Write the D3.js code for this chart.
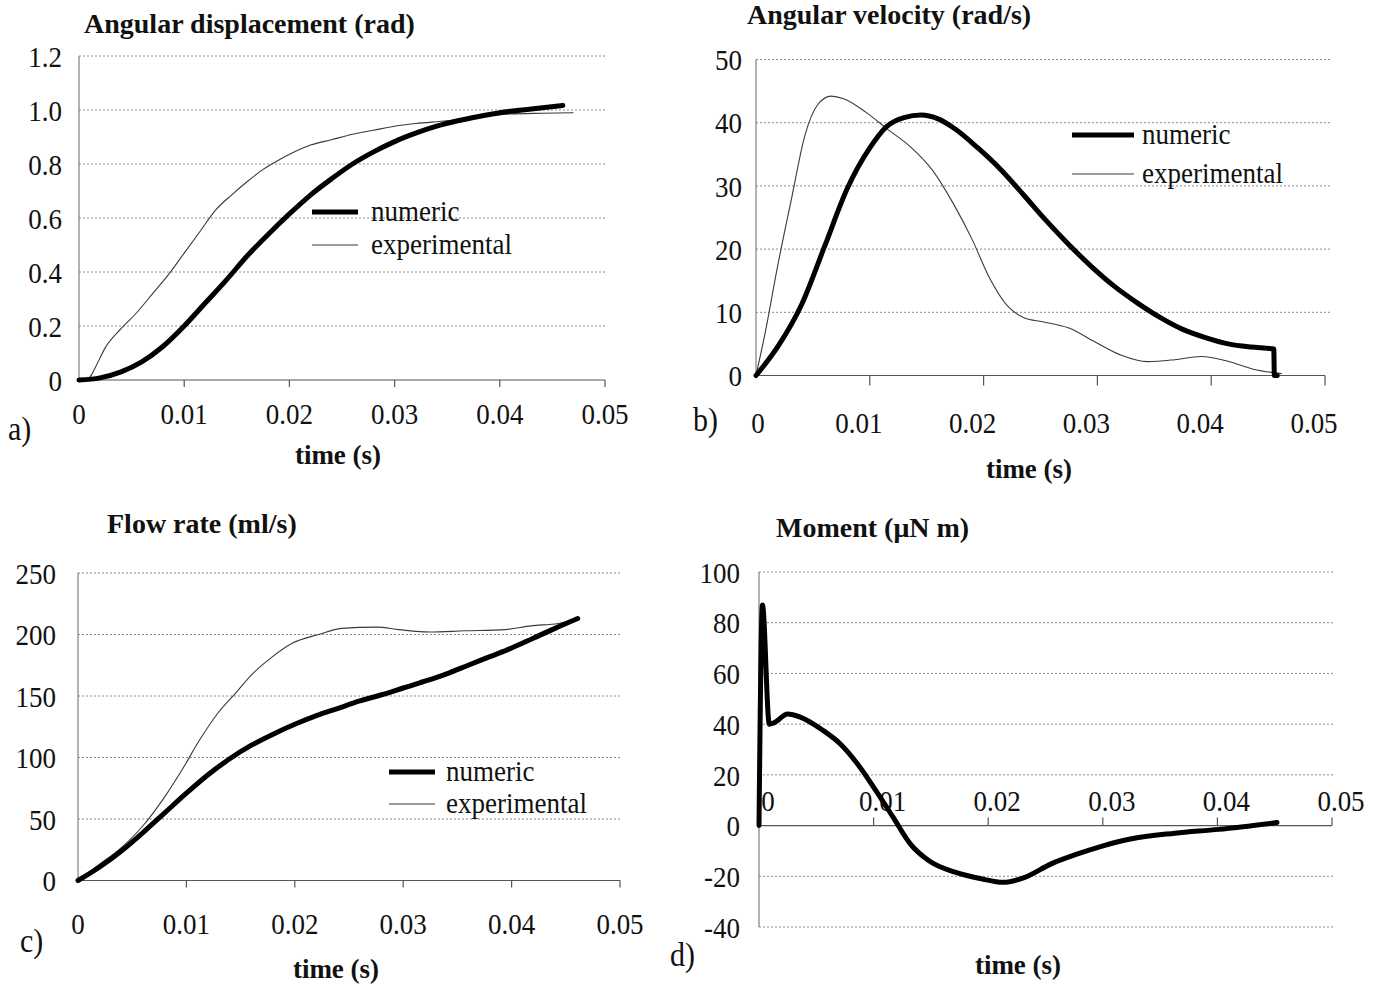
<!DOCTYPE html>
<html><head><meta charset="utf-8">
<script src="https://cdn.jsdelivr.net/npm/d3@7/dist/d3.min.js"></script>
<style>
html,body{margin:0;padding:0;background:#fff;}
svg{display:block;}
text{font-family:"Liberation Serif","Times New Roman",serif;fill:#111;}
</style></head>
<body>
<svg id="chart" width="1380" height="986"></svg>
<script>
// ---------- data ----------
const timeTicks = [0, 0.01, 0.02, 0.03, 0.04, 0.05];

const dispTicks = [0, 0.2, 0.4, 0.6, 0.8, 1.0, 1.2];
const dispTickLabels = ["0", "0.2", "0.4", "0.6", "0.8", "1.0", "1.2"];
const dispNumeric = [[0,0],[0.002,0.008],[0.004,0.03],[0.006,0.068],[0.008,0.125],[0.010,0.20],[0.012,0.285],[0.014,0.37],[0.016,0.46],[0.018,0.54],[0.020,0.615],[0.022,0.685],[0.024,0.745],[0.026,0.80],[0.028,0.845],[0.030,0.883],[0.032,0.914],[0.034,0.94],[0.036,0.96],[0.038,0.976],[0.040,0.99],[0.043,1.004],[0.046,1.017]];
const dispExperimental = [[0.0008,0.0],[0.0012,0.02],[0.0016,0.05],[0.0025,0.12],[0.004,0.19],[0.0055,0.25],[0.007,0.32],[0.0085,0.39],[0.010,0.47],[0.0115,0.55],[0.013,0.63],[0.0145,0.685],[0.016,0.735],[0.0175,0.78],[0.019,0.815],[0.0205,0.845],[0.022,0.87],[0.024,0.89],[0.026,0.91],[0.028,0.925],[0.030,0.94],[0.032,0.95],[0.035,0.96],[0.038,0.975],[0.041,0.985],[0.044,0.988],[0.047,0.99]];

const velTicks = [0, 10, 20, 30, 40, 50];
const velTickLabels = ["0", "10", "20", "30", "40", "50"];
const velNumeric = [[0,0],[0.002,4.8],[0.004,11.2],[0.006,20.3],[0.008,29.5],[0.010,36],[0.0115,39.4],[0.013,40.8],[0.0145,41.2],[0.016,40.6],[0.0175,39.0],[0.0195,36],[0.0215,32.6],[0.0235,28.6],[0.0255,24.5],[0.0275,20.7],[0.0295,17.2],[0.0315,14.1],[0.0335,11.5],[0.0355,9.2],[0.0375,7.3],[0.0395,6.0],[0.0415,5.0],[0.0435,4.5],[0.0455,4.2],[0.04555,0],[0.0458,0]];
const velExperimental = [[0,0],[0.0008,6.7],[0.0019,17.3],[0.0031,27.8],[0.0043,38],[0.0054,42.8],[0.0066,44.2],[0.0077,43.8],[0.0097,41.6],[0.0116,38.9],[0.0135,36.3],[0.0155,32.5],[0.0174,27],[0.019,21.5],[0.0205,15.5],[0.0221,11],[0.0236,9.1],[0.0252,8.5],[0.0275,7.5],[0.0298,5.3],[0.0321,3.2],[0.0344,2.2],[0.0368,2.5],[0.0391,3.0],[0.0414,2.3],[0.0437,1.0],[0.0462,0.3]];

const flowTicks = [0, 50, 100, 150, 200, 250];
const flowTickLabels = ["0", "50", "100", "150", "200", "250"];
const flowNumeric = [[0,0],[0.002,11],[0.004,24],[0.006,39],[0.008,55],[0.010,71],[0.012,86],[0.014,99],[0.016,110],[0.018,119],[0.020,127],[0.022,134],[0.024,140],[0.026,146],[0.028,151],[0.030,156.5],[0.032,162],[0.034,168],[0.036,175],[0.038,182],[0.040,189],[0.042,197],[0.044,205],[0.0461,213]];
const flowExperimental = [[0,0],[0.0018,12],[0.0037,24.5],[0.0059,43.5],[0.008,68],[0.0096,90],[0.0112,114],[0.0129,136],[0.0145,152],[0.0161,168],[0.0178,181],[0.0198,193],[0.0222,200],[0.0243,205],[0.0276,206],[0.0296,204],[0.0324,202],[0.0357,203],[0.0394,204],[0.0418,207],[0.0443,209],[0.046,212]];

const momTicks = [-40, -20, 0, 20, 40, 60, 80, 100];
const momTickLabels = ["-40", "-20", "0", "20", "40", "60", "80", "100"];
const momNumeric = [[0,0],[0.0003,87],[0.0009,40],[0.0013,40.5],[0.0025,44],[0.0036,42.8],[0.0056,37.5],[0.0071,32.2],[0.0086,24.3],[0.0102,13.8],[0.0117,3.3],[0.0132,-7.2],[0.0148,-13.8],[0.0171,-18.4],[0.0194,-21],[0.0213,-22.4],[0.0232,-20.4],[0.0255,-15.1],[0.0278,-11.2],[0.0301,-7.9],[0.0324,-5.3],[0.0363,-3.0],[0.0401,-1.5],[0.0452,1.2]];

const seriesNames = ["numeric", "experimental"];
const timeLabel = "time (s)";

// ---------- drawing ----------
const svg = d3.select("#chart");
const STRETCH = "scale(1,1.1)";

function drawPanel(p) {
  const g = svg.append("g");
  const x = d3.scaleLinear().domain([0, 0.05]).range([p.x0, p.x1]);
  const y = d3.scaleLinear().domain(p.yDomain).range([p.yBot, p.yTop]);

  // gridlines
  g.selectAll(".grid").data(p.yTicks.filter(v => v !== p.axisAt))
    .enter().append("line")
    .attr("x1", p.x0).attr("x2", p.gridRight)
    .attr("y1", d => y(d)).attr("y2", d => y(d))
    .attr("stroke", "#8a8a8a").attr("stroke-width", 1)
    .attr("stroke-dasharray", "2,2");

  // y axis line
  g.append("line").attr("x1", p.x0).attr("x2", p.x0)
    .attr("y1", y(p.yDomain[1])).attr("y2", y(p.yDomain[0]))
    .attr("stroke", "#666").attr("stroke-width", 1);

  // y tick labels
  g.selectAll(".ylab").data(p.yTicks).enter().append("text")
    .attr("transform", d => `translate(${p.x0 - p.yLabGap},${y(d)}) ${STRETCH}`)
    .attr("dy", "0.36em")
    .attr("text-anchor", "end")
    .attr("font-size", 27)
    .text((d, i) => p.yLabels[i]);

  // x axis line at axisAt
  const ax = y(p.axisAt);
  g.append("line").attr("x1", p.x0).attr("x2", p.x1)
    .attr("y1", ax).attr("y2", ax)
    .attr("stroke", "#555").attr("stroke-width", 1.2);
  g.selectAll(".xtick").data(timeTicks.slice(1)).enter().append("line")
    .attr("x1", d => x(d)).attr("x2", d => x(d))
    .attr("y1", ax).attr("y2", ax + p.tickLen)
    .attr("stroke", "#555").attr("stroke-width", 1.2);

  // x tick labels
  g.selectAll(".xlab").data(timeTicks).enter().append("text")
    .attr("transform", d => `translate(${x(d) + (d === 0 ? p.zeroDx : p.labDx)},${p.xLabY}) ${STRETCH}`)
    .attr("text-anchor", "middle")
    .attr("font-size", 27)
    .text(d => d === 0 ? "0" : d3.format(".2f")(d));

  // lines
  const line = d3.line().x(d => x(d[0])).y(d => y(d[1])).curve(d3.curveMonotoneX);
  if (p.exp) {
    g.append("path").datum(p.exp).attr("d", line)
      .attr("fill", "none").attr("stroke", "#3a3a3a").attr("stroke-width", 1.1);
  }
  g.append("path").datum(p.num).attr("d", line)
    .attr("fill", "none").attr("stroke", "#000").attr("stroke-width", 5)
    .attr("stroke-linejoin", "round").attr("stroke-linecap", "round");

  // legend
  if (p.legend) {
    const L = p.legend;
    g.append("line").attr("x1", L.x).attr("x2", L.x + L.w).attr("y1", L.y).attr("y2", L.y)
      .attr("stroke", "#000").attr("stroke-width", 5);
    g.append("text").attr("transform", `translate(${L.tx},${L.y}) ${STRETCH}`).attr("dy", "0.3em")
      .attr("font-size", 27).text(seriesNames[0]);
    g.append("line").attr("x1", L.x).attr("x2", L.x + L.w).attr("y1", L.y + L.gap).attr("y2", L.y + L.gap)
      .attr("stroke", "#3a3a3a").attr("stroke-width", 1.1);
    g.append("text").attr("transform", `translate(${L.tx},${L.y + L.gap}) ${STRETCH}`).attr("dy", "0.3em")
      .attr("font-size", 27).text(seriesNames[1]);
  }

  // title
  g.append("text").attr("x", p.titleX).attr("y", p.titleY)
    .attr("font-size", 28).attr("font-weight", "bold").text(p.title);
  // x title
  g.append("text").attr("x", p.xTitleX).attr("y", p.xTitleY)
    .attr("text-anchor", "middle")
    .attr("font-size", 27).attr("font-weight", "bold").text(timeLabel);
  // panel letter
  g.append("text").attr("transform", `translate(${p.letterX},${p.letterY}) ${STRETCH}`)
    .attr("font-size", 30).text(p.letter);
}

drawPanel({
  x0: 79, x1: 605, yTop: 56, yBot: 380, yDomain: [0, 1.2], gridRight: 605,
  yTicks: dispTicks, yLabels: dispTickLabels, yLabGap: 17, axisAt: 0,
  tickLen: 7, xLabY: 424, labDx: 0, zeroDx: 0,
  num: dispNumeric, exp: dispExperimental,
  legend: { x: 312, w: 46, y: 212, gap: 33, tx: 371 },
  title: "Angular displacement (rad)", titleX: 84, titleY: 33,
  xTitleX: 338, xTitleY: 464, letter: "a)", letterX: 8, letterY: 440
});

drawPanel({
  x0: 756, x1: 1325, yTop: 59.5, yBot: 375.5, yDomain: [0, 50], gridRight: 1330,
  yTicks: velTicks, yLabels: velTickLabels, yLabGap: 14, axisAt: 0,
  tickLen: 10, xLabY: 433, labDx: -11, zeroDx: 2,
  num: velNumeric, exp: velExperimental,
  legend: { x: 1072, w: 62, y: 135, gap: 39, tx: 1142 },
  title: "Angular velocity (rad/s)", titleX: 747, titleY: 24,
  xTitleX: 1029, xTitleY: 478, letter: "b)", letterX: 693, letterY: 431
});

drawPanel({
  x0: 78, x1: 620, yTop: 573, yBot: 880.5, yDomain: [0, 250], gridRight: 620,
  yTicks: flowTicks, yLabels: flowTickLabels, yLabGap: 22, axisAt: 0,
  tickLen: 7, xLabY: 934, labDx: 0, zeroDx: 0,
  num: flowNumeric, exp: flowExperimental,
  legend: { x: 389, w: 46, y: 772, gap: 32, tx: 446 },
  title: "Flow rate (ml/s)", titleX: 107, titleY: 533,
  xTitleX: 336, xTitleY: 978, letter: "c)", letterX: 20, letterY: 952
});

drawPanel({
  x0: 759, x1: 1332, yTop: 572, yBot: 927, yDomain: [-40, 100], gridRight: 1335,
  yTicks: momTicks, yLabels: momTickLabels, yLabGap: 19, axisAt: 0,
  tickLen: -8, xLabY: 811, labDx: 9, zeroDx: 9,
  num: momNumeric, exp: null, legend: null,
  title: "Moment  (\u03BCN m)", titleX: 776, titleY: 537,
  xTitleX: 1018, xTitleY: 974, letter: "d)", letterX: 670, letterY: 966
});
</script>
</body></html>
